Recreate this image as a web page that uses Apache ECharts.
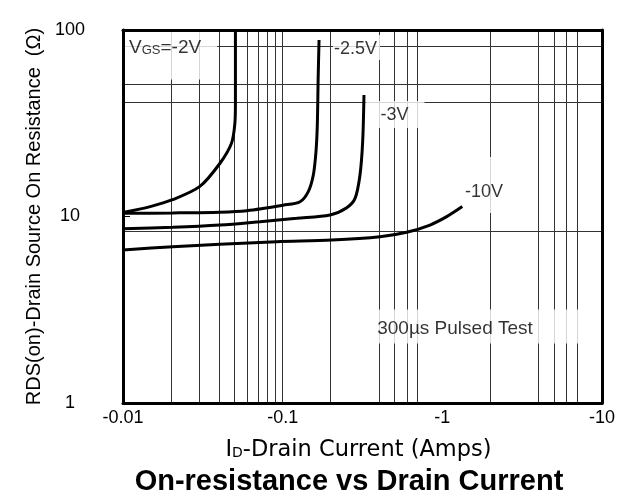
<!DOCTYPE html>
<html>
<head>
<meta charset="utf-8">
<script src="https://cdn.jsdelivr.net/npm/echarts@6/dist/echarts.min.js"></script>
<style>
  html, body { margin: 0; padding: 0; background: #fff; }
  #main { width: 618px; height: 497px; }
</style>
</head>
<body>
<div id="main"></div>
<script>
// axis ticks
const xTicks = [0.01, 0.1, 1, 10];
const xTickLabels = ['-0.01', '-0.1', '-1', '-10'];
const yTicks = [1, 10, 100];
const yTickLabels = ['1', '10', '100'];

// grid lines as drawn on the datasheet (some are missing there)
const xGridLines = [0.02, 0.03, 0.04, 0.05, 0.06, 0.07, 0.08, 0.09, 0.1, 0.2, 0.4, 0.5, 0.6, 0.7, 2, 4, 5, 6, 7];
const yGridLines = [82, 51, 41, 8.3];

// curves, |ID| in amps and RDS(on) in ohms
const idVgs2 = [0.01, 0.0148, 0.0204, 0.0303, 0.0405, 0.0478, 0.0502, 0.0506, 0.0506];
const rdsVgs2 = [10.5, 11.3, 12.3, 14.5, 19.3, 24.7, 31.6, 40.6, 100];

const idVgs25 = [0.01, 0.0205, 0.0405, 0.0595, 0.1006, 0.1284, 0.1447, 0.1556, 0.1617, 0.1648, 0.167, 0.169];
const rdsVgs25 = [10.4, 10.45, 10.55, 10.75, 11.5, 12.0, 13.6, 16.7, 22.3, 30.9, 57.4, 88.4];

const idVgs3 = [0.01, 0.0205, 0.0405, 0.0721, 0.1224, 0.198, 0.252, 0.284, 0.305, 0.317, 0.323];
const rdsVgs3 = [8.6, 8.75, 9.0, 9.38, 9.78, 10.19, 11.15, 12.5, 16.7, 25.2, 44.8];

const idVgs10 = [0.01, 0.0205, 0.0405, 0.0918, 0.203, 0.407, 0.598, 0.837, 1.065, 1.334];
const rdsVgs10 = [6.61, 6.89, 7.1, 7.33, 7.48, 7.79, 8.23, 9.0, 9.98, 11.3];

const FONT = 'Liberation Sans, Arial, Helvetica, sans-serif';
const WIDE_FONT = 'DejaVu Sans, Verdana, sans-serif';

function zip(xs, ys) {
  return xs.map((x, i) => [x, ys[i]]);
}

function tickLabel(ticks, labels) {
  return function (v) {
    const i = ticks.findIndex(t => Math.abs(Math.log10(t) - Math.log10(v)) < 0.01);
    return i >= 0 ? labels[i] : '';
  };
}

function curve(name, xs, ys) {
  return {
    name: name,
    type: 'line',
    data: zip(xs, ys),
    showSymbol: false,
    smooth: 0.3,
    z: 4,
    lineStyle: { color: '#000', width: 3 },
    silent: true
  };
}

// frame-only axes for the top and right border
function frameAxis(pos, type, min, max) {
  return {
    type: type,
    logBase: 10,
    min: min,
    max: max,
    position: pos,
    z: 6,
    axisLine: { show: true, lineStyle: { color: '#000', width: 3 } },
    axisTick: { show: false },
    axisLabel: { show: false },
    splitLine: { show: false }
  };
}

const chart = echarts.init(document.getElementById('main'));

chart.setOption({
  backgroundColor: '#fff',
  animation: false,
  title: {
    text: 'On-resistance vs Drain Current',
    left: 344,
    top: 462,
    textAlign: 'center',
    textStyle: { fontFamily: FONT, fontSize: 29, fontWeight: 'bold', color: '#000' }
  },
  grid: {
    left: 123,
    right: 16,
    top: 30,
    bottom: 94
  },
  xAxis: [{
    type: 'log',
    logBase: 10,
    min: 0.01,
    max: 10,
    z: 6,
    name: '{a|I}{b|D}{a|-Drain Current (Amps)}',
    nameLocation: 'middle',
    nameGap: 36,
    nameTextStyle: {
      padding: [0, 8, 0, 0],
      rich: {
        a: { fontFamily: WIDE_FONT, fontSize: 22.5, color: '#000' },
        b: { fontFamily: WIDE_FONT, fontSize: 14, color: '#000', padding: [6, 0, 0, 0] }
      }
    },
    axisLine: { lineStyle: { color: '#000', width: 3 } },
    axisTick: { show: false },
    splitLine: { show: false },
    axisLabel: {
      formatter: tickLabel(xTicks, xTickLabels),
      fontFamily: FONT,
      fontSize: 18,
      color: '#000',
      margin: 6
    }
  }, frameAxis('top', 'log', 0.01, 10)],
  yAxis: [{
    type: 'log',
    logBase: 10,
    min: 1,
    max: 100,
    z: 6,
    name: 'RDS(on)-Drain Source On Resistance  (Ω)',
    nameLocation: 'middle',
    nameGap: 74,
    nameRotate: 90,
    nameTextStyle: { fontFamily: FONT, fontSize: 20, color: '#000' },
    axisLine: { lineStyle: { color: '#000', width: 3 } },
    axisTick: { show: true, inside: true, length: 7, lineStyle: { color: '#000', width: 1 } },
    splitLine: { show: false },
    axisLabel: {
      formatter: tickLabel(yTicks, yTickLabels),
      fontFamily: FONT,
      fontSize: 18,
      color: '#000',
      align: 'center',
      margin: 53
    }
  }, frameAxis('right', 'log', 1, 100)],
  series: [
    {
      name: 'grid',
      type: 'line',
      data: [],
      z: 1,
      silent: true,
      markLine: {
        silent: true,
        z: 1,
        symbol: 'none',
        animation: false,
        label: { show: false },
        lineStyle: { color: '#333', width: 1, type: 'solid' },
        data: xGridLines.map(v => ({ xAxis: v })).concat(yGridLines.map(v => ({ yAxis: v })))
      }
    },
    {
      // text notes with white boxes that break the grid lines
      name: 'notes',
      type: 'scatter',
      symbolSize: 0,
      z: 3,
      silent: true,
      label: {
        show: true,
        position: 'inside',
        color: '#000',
        fontFamily: FONT,
        fontSize: 18,
        backgroundColor: '#fff',
        rich: {
          v: { fontFamily: FONT, fontSize: 19, color: '#000' },
          s: { fontFamily: FONT, fontSize: 13, color: '#000', padding: [4, 0, 0, 0] }
        }
      },
      data: [
        { value: [0.02, 73.0], label: { formatter: '{v|V}{s|GS}{v|=-2V}', padding: [7, 16, 22, 4] } },
        { value: [0.29, 80.6], label: { formatter: '-2.5V', padding: [5, 3, 2, 1] } },
        { value: [0.505, 35.2], label: { formatter: '-3V', padding: [5, 16, 4, 15] } },
        { value: [1.823, 14.75], label: { formatter: '-10V', padding: [26, 4, 12, 4] } },
        { value: [1.637, 2.572], label: { formatter: '300µs Pulsed Test', fontSize: 19, padding: [10, 49, 5, 6] } }
      ]
    },
    curve('-2V', idVgs2, rdsVgs2),
    curve('-2.5V', idVgs25, rdsVgs25),
    curve('-3V', idVgs3, rdsVgs3),
    curve('-10V', idVgs10, rdsVgs10)
  ]
});
</script>
</body>
</html>
